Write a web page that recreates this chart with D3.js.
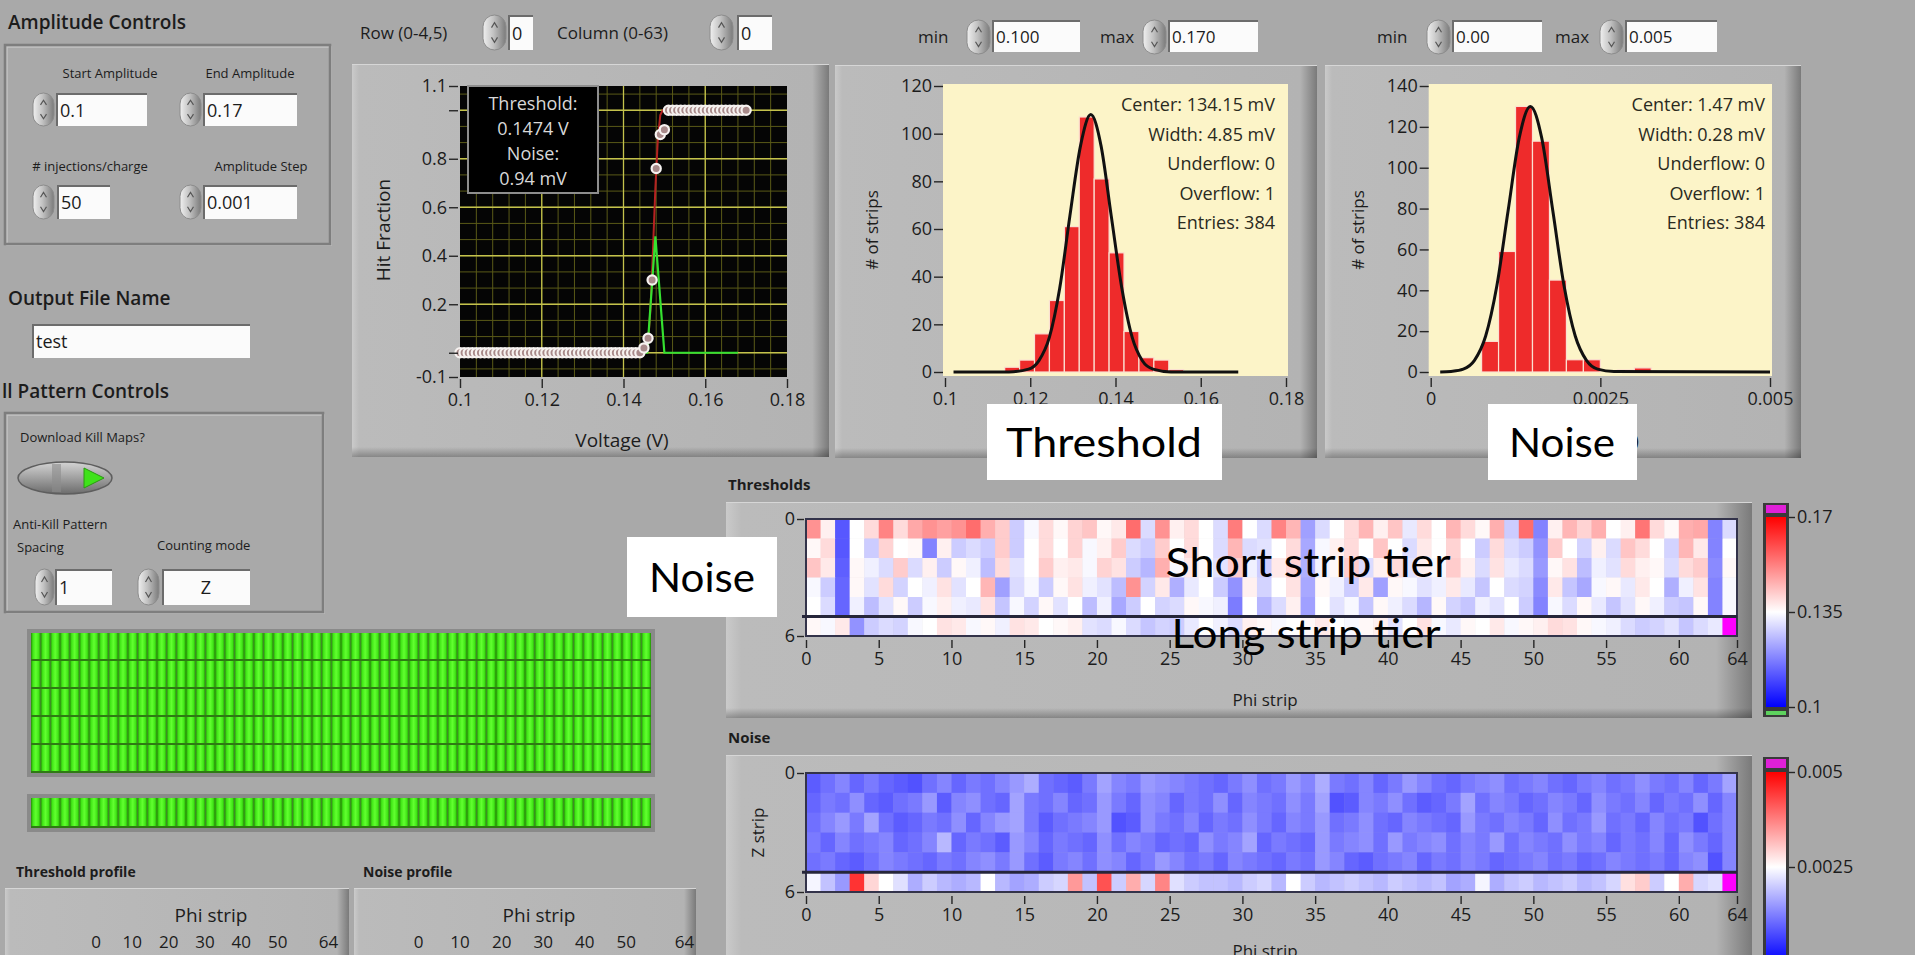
<!DOCTYPE html>
<html lang="en">
<head>
<meta charset="UTF-8">
<title>SVT Threshold Scan</title>
<style>
  body { margin: 0; background: #a9a9a9; overflow: hidden; }
  svg { display: block; }
  text { font-family: "Open Sans", "DejaVu Sans", sans-serif; }
  .note { font-family: Lato, "Open Sans", sans-serif; fill: #000; }
</style>
</head>
<body>
<svg width="1915" height="955"></svg>
<script src="https://cdn.jsdelivr.net/npm/d3@7"></script>
<script>
// ---------- data ----------
const startAmplitude = 0.1, amplitudeStep = 0.001;
// hit fraction per injected amplitude, 0.100 ... 0.170 V
const hitFraction = [
  0,0,0,0,0,0,0,0,0,0,
  0,0,0,0,0,0,0,0,0,0,
  0,0,0,0,0,0,0,0,0,0,
  0,0,0,0,0,0,0,0,0,0,
  0,0,0,0,0,0.02,0.06,0.30,0.76,0.90,
  0.92,1,1,1,1,1,1,1,1,1,
  1,1,1,1,1,1,1,1,1,1,
  1
];
const fitCurve = [[0.100,0],[0.1455,0],[0.1460,0.04],[0.1466,0.18],[0.1472,0.42],[0.1478,0.68],[0.1484,0.88],[0.1490,0.98],[0.1496,1],[0.170,1]];
const derivCurve = [[0.100,0],[0.1458,0],[0.1478,0.48],[0.1500,0],[0.168,0]];
const legendLines = ["Threshold:", "0.1474 V", "Noise:", "0.94 mV"];

const thrHistMin = 0.100, thrHistMax = 0.170;
const thrCounts = [0,0,0,0,2,5,16,30,61,107,81,50,17,6,5,1,0,0,0,0];
const thrFit = [[0.102,0],[0.115,0.05],[0.1196,1.2],[0.1220,4.7],[0.1245,14.6],[0.1269,35],[0.1293,65.5],[0.1318,95],[0.1342,108],
                [0.1366,95],[0.1390,65.5],[0.1415,35],[0.1439,14.6],[0.1463,4.7],[0.1488,1.2],[0.1530,0.05],[0.1688,0]];
const thrStats = ["Center: 134.15 mV", "Width: 4.85 mV", "Underflow: 0", "Overflow: 1", "Entries: 384"];

const noiseHistMin = 0, noiseHistMax = 0.005;
const noiseCounts = [0,0,0,15,59,130,113,45,6,6,0,1,2,0,0,0,0,0,0,0];
const noiseFit = [[0.00014,0],[0.0003,0.3],[0.00048,1.4],[0.000645,5.7],[0.00081,17.6],[0.000975,42.2],[0.00114,78.8],[0.001305,114.7],[0.00147,130],
                  [0.001635,114.7],[0.0018,78.8],[0.001965,42.2],[0.00213,17.6],[0.002295,5.7],[0.00246,1.4],[0.0027,0.2],[0.005,0]];
const noiseStats = ["Center: 1.47 mV", "Width: 0.28 mV", "Underflow: 0", "Overflow: 1", "Entries: 384"];

// threshold map, mV, rows 0-4 short strip tier, row 5 long strip tier
const thrMap = [
  [150,137,112,135,140,152,140,147, 150,148,150,155,146,142,128,134, 140,136,141,143,136,138,155,130, 150,137,140,135,130,153,135,130,
   152,145,122,130,135,140,145,137, 143,132,140,135,145,140,136,146, 128,155,118,137,145,141,146,135, 137,154,140,136,146,147,118,130],
  [136,140,112,135,128,141,135,136, 118,137,128,130,128,142,128,135, 140,135,141,134,137,142,130,128, 142,135,140,135,130,145,130,131,
   135,140,123,134,137,140,135,143, 135,130,138,135,141,135,128,140, 130,128,120,142,135,129,137,130, 143,140,135,129,145,138,118,135],
  [143,138,113,136,133,130,142,130, 137,128,136,133,126,140,131,135, 142,137,138,134,141,139,128,125, 146,134,138,136,131,142,133,128,
   138,141,124,133,136,142,130,137, 140,131,137,134,142,137,130,139, 132,130,121,136,139,126,133,131, 140,137,136,130,140,142,119,136],
  [134,128,114,136,131,140,129,135, 133,139,131,135,145,122,130,134, 128,136,139,133,131,126,150,129, 138,124,132,135,128,120,137,129,
   135,139,123,136,133,128,138,122, 136,134,131,133,138,132,127,135, 130,129,119,138,127,123,134,136, 132,138,135,124,133,139,118,134],
  [135,130,114,133,126,131,136,128, 134,137,133,132,139,127,134,129, 136,131,135,126,133,123,128,135, 129,130,136,134,133,117,135,125,
   130,137,122,135,131,134,127,136, 133,130,125,136,129,127,133,131, 135,128,118,134,130,136,132,127, 131,136,133,128,127,136,118,134],
  [136,134,138,120,128,130,129,134, 135,139,138,134,136,133,139,138, 135,136,137,131,130,134,130,127, 129,128,132,135,133,130,137,136,
   134,135,136,138,135,134,136,137, 131,135,139,134,132,136,135,138, 134,136,137,140,139,136,134,133, 130,128,129,131,127,130,132,180]
];
// noise map, mV
const noiseMap = [
  [0.9,1.1,1.3,1.0,1.2,1.0,0.9,0.8, 1.1,1.3,1.0,1.2,1.1,1.3,1.5,1.7, 1.1,1.0,0.9,1.2,1.6,1.3,1.2,1.5, 1.4,1.3,1.2,1.1,1.0,1.2,1.4,1.1,
   1.2,1.5,1.3,1.7,1.2,1.1,1.3,1.0, 1.2,1.5,1.3,1.1,1.0,1.2,1.3,1.4, 1.1,1.2,1.3,1.1,1.0,1.2,1.3,1.1, 1.2,1.4,1.2,1.1,1.3,1.0,1.2,1.6],
  [1.0,1.2,1.1,1.4,1.0,0.9,1.1,1.2, 1.5,0.9,1.3,1.4,1.1,1.0,1.6,1.2, 1.1,1.3,1.0,1.1,1.5,1.2,1.0,1.4, 1.3,1.0,1.2,1.1,1.4,1.0,1.3,1.2,
   1.1,1.4,1.2,1.6,0.8,0.9,1.3,1.2, 1.4,1.1,0.9,1.0,1.2,1.6,1.1,1.3, 1.2,1.0,1.1,1.3,1.2,1.0,1.4,1.2, 1.1,1.3,1.0,1.2,1.1,1.4,1.0,1.3],
  [1.1,1.3,1.5,1.2,1.6,1.1,0.9,1.0, 1.2,1.1,1.4,1.0,1.3,1.5,1.6,1.2, 0.9,1.1,1.2,1.3,1.5,0.8,0.9,1.4, 1.2,1.1,1.3,1.0,1.2,1.1,1.4,1.2,
   1.0,1.3,1.2,1.5,1.1,1.2,1.4,1.1, 1.0,1.3,1.2,1.1,1.0,1.5,1.2,1.1, 1.3,1.2,1.0,1.4,1.1,1.2,1.5,1.1, 1.2,1.0,1.3,1.1,1.2,0.8,1.1,1.3],
  [1.2,1.0,1.3,1.1,1.2,1.3,1.0,1.1, 1.3,1.8,1.0,1.2,1.1,0.9,1.5,1.3, 1.0,1.2,1.1,1.0,1.4,1.1,1.3,1.2, 1.0,1.1,1.0,1.4,1.2,1.3,1.6,1.0,
   1.2,1.1,1.0,1.5,1.2,1.3,1.4,1.1, 1.5,1.2,1.3,1.4,1.1,1.3,1.2,1.5, 1.1,1.3,1.2,1.1,1.4,1.2,1.3,1.0, 1.2,1.1,1.3,1.0,1.4,1.2,1.0,1.3],
  [1.1,1.2,1.0,0.9,1.1,1.3,1.2,1.1, 1.0,1.2,1.1,1.3,1.4,1.2,1.5,1.1, 0.9,1.2,1.3,1.1,1.4,1.3,1.0,1.2, 1.5,1.3,1.1,1.2,1.0,1.3,1.2,1.1,
   1.0,1.2,1.1,1.5,1.3,1.0,0.9,1.1, 1.2,1.3,1.0,1.2,1.1,1.3,1.2,1.0, 1.1,1.2,1.3,1.1,1.2,1.0,1.1,1.3, 1.2,1.1,1.2,1.0,1.3,1.4,0.8,1.3],
  [2.4,1.9,1.5,4.5,2.9,2.5,2.2,1.7, 2.0,1.8,1.7,1.8,2.5,1.8,1.6,1.7, 2.0,2.1,3.5,1.9,4.2,2.0,3.3,2.1, 3.7,2.2,2.0,1.9,1.9,1.8,2.0,2.1,
   1.8,2.5,2.0,1.8,1.9,2.0,1.9,1.8, 2.0,1.9,1.8,1.9,1.6,1.7,2.4,1.7, 1.9,2.0,1.8,1.9,2.0,1.8,1.9,2.1, 2.8,3.0,2.0,2.5,3.3,2.1,2.2,6.0]
];
const phiTicks = [0,5,10,15,20,25,30,35,40,45,50,55,60,64];
const profileTicks = [0,10,20,30,40,50,64];

// ---------- helpers ----------
const FONT = '"Open Sans", "DejaVu Sans", sans-serif';
const svg = d3.select("svg");
const defs = svg.append("defs");
svg.append("rect").attr("width", 1915).attr("height", 955).attr("fill", "#a9a9a9");

function grad(id, stops, vertical) {
  const g = defs.append("linearGradient").attr("id", id)
    .attr("x1", 0).attr("y1", 0).attr("x2", vertical ? 0 : 1).attr("y2", vertical ? 1 : 0);
  stops.forEach(s => g.append("stop").attr("offset", s[0]).attr("stop-color", s[1]));
}
grad("face", [[0, "#cacaca"], [0.015, "#bbbbbb"], [0.965, "#b3b3b3"], [1, "#7a7a7a"]]);
grad("faceB", [[0, "rgba(0,0,0,0)"], [1, "rgba(0,0,0,0.28)"]], true);
grad("spin", [[0, "#f0f0f0"], [0.45, "#c2c2c2"], [1, "#7b7b7b"]]);
grad("led", [[0, "#268a06"], [0.2, "#40e616"], [0.5, "#62ff30"], [0.8, "#40e616"], [1, "#268a06"]]);
grad("toggle", [[0, "#d4d4d4"], [0.5, "#a0a0a0"], [1, "#6c6c6c"]], true);

function label(x, y, s, size, o = {}) {
  return svg.append("text").attr("x", x).attr("y", y).attr("dy", "0.35em")
    .attr("font-size", size).attr("text-anchor", o.anchor || "start")
    .attr("font-weight", o.weight || 400).attr("fill", o.fill || "#1c1c1c").text(s);
}
function panel(x, y, w, h) {
  svg.append("rect").attr("x", x).attr("y", y).attr("width", w).attr("height", h).attr("fill", "url(#face)");
  svg.append("rect").attr("x", x).attr("y", y + h - 10).attr("width", w).attr("height", 10).attr("fill", "url(#faceB)");
  svg.append("line").attr("x1", x).attr("x2", x + w).attr("y1", y + 0.5).attr("y2", y + 0.5).attr("stroke", "#d6d6d6");
}
function groupBox(x, y, w, h) {
  svg.append("rect").attr("x", x + 2).attr("y", y + 2).attr("width", w - 3).attr("height", h - 3)
    .attr("fill", "none").attr("stroke", "#c4c4c4").attr("stroke-width", 1.5);
  svg.append("rect").attr("x", x).attr("y", y).attr("width", w - 2).attr("height", h - 2)
    .attr("fill", "none").attr("stroke", "#7e7e7e").attr("stroke-width", 2.5);
}
function spinner(x, y, w, h) {
  svg.append("rect").attr("x", x).attr("y", y).attr("width", w).attr("height", h)
    .attr("rx", w / 2).attr("ry", h / 3).attr("fill", "url(#spin)").attr("stroke", "#8c8c8c");
  const cx = x + w / 2;
  svg.append("path").attr("d", `M${cx - 3},${y + h * 0.36}L${cx},${y + h * 0.22}L${cx + 3},${y + h * 0.36}`)
    .attr("fill", "none").attr("stroke", "#555").attr("stroke-width", 1.2);
  svg.append("path").attr("d", `M${cx - 3},${y + h * 0.64}L${cx},${y + h * 0.78}L${cx + 3},${y + h * 0.64}`)
    .attr("fill", "none").attr("stroke", "#555").attr("stroke-width", 1.2);
}
function field(x, y, w, h, s, o = {}) {
  svg.append("rect").attr("x", x).attr("y", y).attr("width", w).attr("height", h).attr("fill", "#fbfbfb");
  svg.append("path").attr("d", `M${x + 1},${y + h}L${x + 1},${y + 1}L${x + w},${y + 1}`)
    .attr("fill", "none").attr("stroke", "#6c6c6c").attr("stroke-width", 2);
  label(o.center ? x + w / 2 : x + 4, y + h / 2 + 1, s, o.size || 18, { anchor: o.center ? "middle" : "start" });
}
function styleAxis(g, size) {
  g.attr("font-family", FONT).attr("font-size", size);
  g.select(".domain").remove();
  g.selectAll(".tick line").attr("stroke", "#262626").attr("stroke-width", 1.4);
  g.selectAll(".tick text").attr("fill", "#1c1c1c");
}

// ---------- left column controls ----------
label(8, 22, "Amplitude Controls", 19, { weight: 600 });
groupBox(5, 45, 327, 201);
label(110, 73, "Start Amplitude", 13, { anchor: "middle" });
label(250, 73, "End Amplitude", 13, { anchor: "middle" });
spinner(33, 93, 21, 33); field(56, 93, 91, 33, "0.1");
spinner(180, 93, 21, 33); field(203, 93, 94, 33, "0.17");
label(90, 166, "# injections/charge", 13, { anchor: "middle" });
label(261, 166, "Amplitude Step", 13, { anchor: "middle" });
spinner(33, 185, 21, 34); field(57, 185, 53, 34, "50");
spinner(180, 185, 21, 34); field(203, 185, 94, 34, "0.001");

label(8, 298, "Output File Name", 19, { weight: 600 });
field(32, 324, 218, 34, "test");

label(2, 391, "ll Pattern Controls", 19, { weight: 600 });
groupBox(5, 413, 320, 201);
label(20, 437, "Download Kill Maps?", 13);
svg.append("ellipse").attr("cx", 65).attr("cy", 478).attr("rx", 47).attr("ry", 16)
  .attr("fill", "url(#toggle)").attr("stroke", "#5e5e5e").attr("stroke-width", 1.5);
svg.append("rect").attr("x", 52).attr("y", 464).attr("width", 9).attr("height", 28).attr("fill", "#8c8c8c").attr("opacity", 0.6);
svg.append("path").attr("d", "M84,468L104,478L84,488Z").attr("fill", "#3fe21a").attr("stroke", "#2a9a10");
label(13, 524, "Anti-Kill Pattern", 13);
label(17, 547, "Spacing", 13);
label(157, 545, "Counting mode", 13);
spinner(35, 569, 19, 36); field(55, 569, 57, 36, "1");
spinner(138, 569, 21, 36); field(162, 569, 88, 36, "Z", { center: true });

// kill-map LED indicators, 5 short-strip rows + 1 long-strip row of 64
const ledCols = d3.range(64);
const ledX = d3.scaleBand().domain(ledCols).range([31, 651]);
function ledArray(y0, nRows, rowH) {
  svg.append("rect").attr("x", 27).attr("y", y0 - 4).attr("width", 628).attr("height", nRows * rowH + 8)
    .attr("fill", "#8a8a8a");
  d3.range(nRows).forEach(r => {
    svg.append("g").selectAll("rect").data(ledCols).join("rect")
      .attr("x", c => ledX(c)).attr("y", y0 + r * rowH)
      .attr("width", ledX.bandwidth()).attr("height", rowH - 2)
      .attr("fill", "url(#led)");
    svg.append("rect").attr("x", 31).attr("y", y0 + r * rowH + rowH - 2).attr("width", 620).attr("height", 2)
      .attr("fill", "#2f7a14");
  });
}
ledArray(633, 5, 28);
ledArray(798, 1, 30);

// profile graphs (cut off at the bottom)
label(16, 872, "Threshold profile", 14, { weight: 700 });
label(363, 872, "Noise profile", 14, { weight: 700 });
panel(5, 888, 344, 80);
panel(354, 888, 342, 80);
[[95.5, 328, 211], [418, 684, 539]].forEach(([a, b, c]) => {
  label(c, 915, "Phi strip", 19, { anchor: "middle" });
  const px = d3.scaleLinear().domain([0, 64]).range([a, b]);
  svg.append("g").attr("transform", "translate(0,936)")
    .call(d3.axisBottom(px).tickValues(profileTicks).tickSize(0).tickPadding(0))
    .call(styleAxis, 17);
});

// ---------- S-curve ----------
label(360, 33, "Row (0-4,5)", 17);
spinner(483, 15, 23, 35); field(508, 15, 25, 35, "0");
label(557, 33, "Column (0-63)", 17);
spinner(710, 15, 23, 35); field(737, 15, 35, 35, "0");

panel(352, 64, 477, 393);
const sx = d3.scaleLinear().domain([0.1, 0.18]).range([460, 787]);
const sy = d3.scaleLinear().domain([-0.1, 1.1]).range([377, 86]);
svg.append("rect").attr("x", sx(0.1)).attr("y", sy(1.1))
  .attr("width", sx(0.18) - sx(0.1)).attr("height", sy(-0.1) - sy(1.1)).attr("fill", "#050505");
const grid = svg.append("g");
const minorX = d3.range(1, 20).map(i => 0.1 + i * 0.004);
const minorY = d3.range(-1, 17).map(i => i * 0.2 / 3);
grid.selectAll(".mx").data(minorX).join("line").attr("class", "mx")
  .attr("x1", d => sx(d)).attr("x2", d => sx(d)).attr("y1", sy(1.1)).attr("y2", sy(-0.1))
  .attr("stroke", "#5a5a18").attr("stroke-width", 1);
grid.selectAll(".my").data(minorY).join("line").attr("class", "my")
  .attr("y1", d => sy(d)).attr("y2", d => sy(d)).attr("x1", sx(0.1)).attr("x2", sx(0.18))
  .attr("stroke", "#5a5a18").attr("stroke-width", 1);
grid.selectAll(".Mx").data([0.12, 0.14, 0.16]).join("line").attr("class", "Mx")
  .attr("x1", d => sx(d)).attr("x2", d => sx(d)).attr("y1", sy(1.1)).attr("y2", sy(-0.1))
  .attr("stroke", "#c4c24c").attr("stroke-width", 1.3);
grid.selectAll(".My").data([0, 0.2, 0.4, 0.6, 0.8, 1.0]).join("line").attr("class", "My")
  .attr("y1", d => sy(d)).attr("y2", d => sy(d)).attr("x1", sx(0.1)).attr("x2", sx(0.18))
  .attr("stroke", "#c4c24c").attr("stroke-width", 1.3);

const sLine = d3.line().x(d => sx(d[0])).y(d => sy(d[1]));
svg.append("path").attr("d", sLine(fitCurve)).attr("fill", "none").attr("stroke", "#b42222").attr("stroke-width", 2);
svg.append("path").attr("d", sLine(derivCurve)).attr("fill", "none").attr("stroke", "#35e030").attr("stroke-width", 2.2);
svg.append("g").selectAll("circle").data(hitFraction).join("circle")
  .attr("cx", (d, i) => sx(startAmplitude + i * amplitudeStep)).attr("cy", d => sy(d)).attr("r", 4.6)
  .attr("fill", "#a88a8a").attr("stroke", "#f6f2f0").attr("stroke-width", 2.2);

svg.append("rect").attr("x", 468).attr("y", 86).attr("width", 130).attr("height", 107)
  .attr("fill", "#000").attr("stroke", "#8e8e8e").attr("stroke-width", 2);
legendLines.forEach((s, i) => label(533, 104 + i * 25, s, 18, { anchor: "middle", fill: "#d8d8d8" }));

svg.append("g").attr("transform", "translate(458,0)")
  .call(d3.axisLeft(sy).tickValues([1.1, 1, 0.8, 0.6, 0.4, 0.2, 0, -0.1]).tickSize(9).tickPadding(2)
    .tickFormat(v => (v === 1 || v === 0) ? "" : String(v)))
  .call(styleAxis, 18);
svg.append("g").attr("transform", "translate(0,379)")
  .call(d3.axisBottom(sx).tickValues([0.1, 0.12, 0.14, 0.16, 0.18]).tickSize(9).tickPadding(5).tickFormat(String))
  .call(styleAxis, 18);
label(383, 230, "Hit Fraction", 19, { anchor: "middle" }).attr("transform", "rotate(-90,383,230)");
label(622, 440, "Voltage (V)", 19, { anchor: "middle" });

// ---------- histograms ----------
function histogram(o) {
  panel(o.px, 65, o.pw, 393);
  const x = d3.scaleLinear().domain(o.xDomain).range(o.xRange);
  const y = d3.scaleLinear().domain([0, o.yMax]).range([372, 86]);
  svg.append("rect").attr("x", o.xRange[0] - 2).attr("y", 84).attr("width", o.xRange[1] - o.xRange[0] + 4)
    .attr("height", 292).attr("fill", "#fcf4c8");
  const bw = (o.max - o.min) / o.counts.length;
  svg.append("g").selectAll("rect")
    .data(o.counts.map((c, i) => ({ c, i })).filter(d => d.c > 0)).join("rect")
    .attr("x", d => x(o.min + d.i * bw)).attr("width", d => x(o.min + (d.i + 1) * bw) - x(o.min + d.i * bw))
    .attr("y", d => y(d.c)).attr("height", d => y(0) - y(d.c))
    .attr("fill", "#ee2b2b").attr("stroke", "#fbe0d2").attr("stroke-width", 1.2);
  svg.append("path").attr("d", d3.line().curve(d3.curveMonotoneX).x(d => x(d[0])).y(d => y(d[1]))(o.fit))
    .attr("fill", "none").attr("stroke", "#111").attr("stroke-width", 3);
  svg.append("g").attr("transform", `translate(${o.xRange[0] - 2},0)`)
    .call(d3.axisLeft(y).tickValues(d3.range(0, o.yMax + 1, 20)).tickSize(9).tickPadding(2))
    .call(styleAxis, 18);
  svg.append("g").attr("transform", "translate(0,378)")
    .call(d3.axisBottom(x).tickValues(o.ticks).tickSize(9).tickPadding(5).tickFormat(String))
    .call(styleAxis, 18);
  label(o.ylabX, 230, "# of strips", 17, { anchor: "middle" }).attr("transform", `rotate(-90,${o.ylabX},230)`);
  if (o.title) label(o.titleX, 440, o.title, 19, { anchor: "middle" });
  o.stats.forEach((s, i) => label(o.statX, 105 + i * 29.5, s, 18, { anchor: "end", fill: "#2a2a1e" }));
  // min / max controls
  label(o.c[0], 37, "min", 17); spinner(o.c[1], 20, 23, 34); field(o.c[1] + 25, 20, o.c[2], 32, o.minText, { size: 17 });
  label(o.c[3], 37, "max", 17); spinner(o.c[4], 20, 23, 34); field(o.c[4] + 25, 20, o.c[5], 32, o.maxText, { size: 17 });
}
histogram({
  px: 835, pw: 482, xDomain: [0.1, 0.18], xRange: [945, 1286], yMax: 120,
  min: thrHistMin, max: thrHistMax, counts: thrCounts, fit: thrFit, stats: thrStats,
  ticks: [0.1, 0.12, 0.14, 0.16, 0.18], ylabX: 872, statX: 1275, titleX: 1110, title: null,
  c: [918, 967, 88, 1100, 1143, 90], minText: "0.100", maxText: "0.170"
});
histogram({
  px: 1325, pw: 476, xDomain: [0, 0.005], xRange: [1430.7, 1770], yMax: 140,
  min: noiseHistMin, max: noiseHistMax, counts: noiseCounts, fit: noiseFit, stats: noiseStats,
  ticks: [0, 0.0025, 0.005], ylabX: 1358, statX: 1765, titleX: 1600, title: "Noise (V)",
  c: [1377, 1427, 90, 1555, 1600, 92], minText: "0.00", maxText: "0.005"
});

// ---------- strip maps ----------
const thrColor = d3.scaleLinear().domain([100, 135, 170]).range(["#0000ff", "#ffffff", "#ff0000"]);
const noiseColor = d3.scaleLinear().domain([0, 2.5, 5]).range(["#0000ff", "#ffffff", "#ff0000"]);

function heatmap(o) {
  panel(726, o.panelY, 1026, o.panelH);
  label(728, o.titleY, o.title, 15, { weight: 700 });
  const x = d3.scaleLinear().domain([0, 64]).range([806, 1737]);
  const y = d3.scaleLinear().domain([0, 6]).range([o.y0, o.y1]);
  const g = svg.append("g");
  o.rows.forEach((row, r) => {
    g.append("g").selectAll("rect").data(row).join("rect")
      .attr("x", (d, c) => x(c)).attr("y", y(r))
      .attr("width", x(1) - x(0) + 0.4).attr("height", y(r + 1) - y(r) + 0.4)
      .attr("fill", d => d > o.max ? "#ff00ff" : d < o.min ? "#44dd44" : o.color(d));
  });
  g.append("rect").attr("x", x(0)).attr("y", y(0)).attr("width", x(64) - x(0)).attr("height", y(6) - y(0))
    .attr("fill", "none").attr("stroke", "#33334a").attr("stroke-width", 2);
  g.append("line").attr("x1", x(0) - 4).attr("x2", x(64)).attr("y1", y(5)).attr("y2", y(5))
    .attr("stroke", "#26263a").attr("stroke-width", 3);
  svg.append("g").attr("transform", `translate(0,${o.y1 + 4})`)
    .call(d3.axisBottom(x).tickValues(phiTicks).tickSize(8).tickPadding(4).tickFormat(String))
    .call(styleAxis, 18);
  svg.append("g").attr("transform", "translate(804,0)")
    .call(d3.axisLeft(y).tickValues([0, 6]).tickSize(7).tickPadding(2).tickFormat(String))
    .call(styleAxis, 18);
  label(1265, o.phiY, "Phi strip", 17, { anchor: "middle" });
  label(758, (o.y0 + o.y1) / 2, "Z strip", 17, { anchor: "middle" })
    .attr("transform", `rotate(-90,758,${(o.y0 + o.y1) / 2})`);
}
function colorbar(o) {
  const cy = d3.scaleLinear().domain([o.vmin, o.vmax]).range([o.yLow, o.yHigh]);
  const id = "cb" + o.id;
  grad(id, [[0, o.color(o.cmax)], [0.5, o.color((o.cmin + o.cmax) / 2)], [1, o.color(o.cmin)]], true);
  svg.append("rect").attr("x", 1763).attr("y", o.top).attr("width", 26).attr("height", o.bottom - o.top)
    .attr("fill", "#3a3a3a");
  svg.append("rect").attr("x", 1766).attr("y", o.top + 2).attr("width", 20).attr("height", cy(o.vmax) - o.top - 6)
    .attr("fill", "#e020d8");
  svg.append("rect").attr("x", 1766).attr("y", cy(o.vmax)).attr("width", 20).attr("height", cy(o.vmin) - cy(o.vmax))
    .attr("fill", `url(#${id})`);
  if (o.under) {
    svg.append("rect").attr("x", 1766).attr("y", cy(o.vmin) + 4).attr("width", 20).attr("height", o.bottom - cy(o.vmin) - 6)
      .attr("fill", "#5ed25e");
  }
  svg.append("g").attr("transform", "translate(1789,0)")
    .call(d3.axisRight(cy).tickValues(o.ticks).tickSize(6).tickPadding(2).tickFormat(String))
    .call(styleAxis, 18);
}

heatmap({ title: "Thresholds", titleY: 485, panelY: 502, panelH: 216, y0: 519, y1: 636, phiY: 700,
  rows: thrMap, color: thrColor, min: 100, max: 170 });
colorbar({ id: "t", vmin: 0.1, vmax: 0.17, yLow: 707, yHigh: 517, top: 503, bottom: 717,
  cmin: 100, cmax: 170, color: thrColor, ticks: [0.1, 0.135, 0.17], under: true });

heatmap({ title: "Noise", titleY: 738, panelY: 755, panelH: 210, y0: 773, y1: 892, phiY: 951,
  rows: noiseMap, color: noiseColor, min: 0, max: 5 });
colorbar({ id: "n", vmin: 0, vmax: 0.005, yLow: 962, yHigh: 772, top: 757, bottom: 970,
  cmin: 0, cmax: 5, color: noiseColor, ticks: [0, 0.0025, 0.005], under: false });

// ---------- slide annotations ----------
[[987, 404, 235, 76, "Threshold", 1104, 443, 196],
 [1488, 404, 149, 76, "Noise", 1562, 443, 106],
 [627, 537, 150, 80, "Noise", 702, 578, 106],
 [0, 0, 0, 0, "Short strip tier", 1308, 563, 285],
 [0, 0, 0, 0, "Long strip tier", 1306, 634, 269]].forEach(n => {
  if (n[2]) svg.append("rect").attr("x", n[0]).attr("y", n[1]).attr("width", n[2]).attr("height", n[3]).attr("fill", "#fff");
  svg.append("text").attr("class", "note").attr("x", n[5] - n[7] / 2).attr("y", n[6]).attr("dy", "0.35em")
    .attr("font-size", 40).attr("textLength", n[7]).attr("lengthAdjust", "spacingAndGlyphs").text(n[4]);
});
</script>
</body>
</html>
